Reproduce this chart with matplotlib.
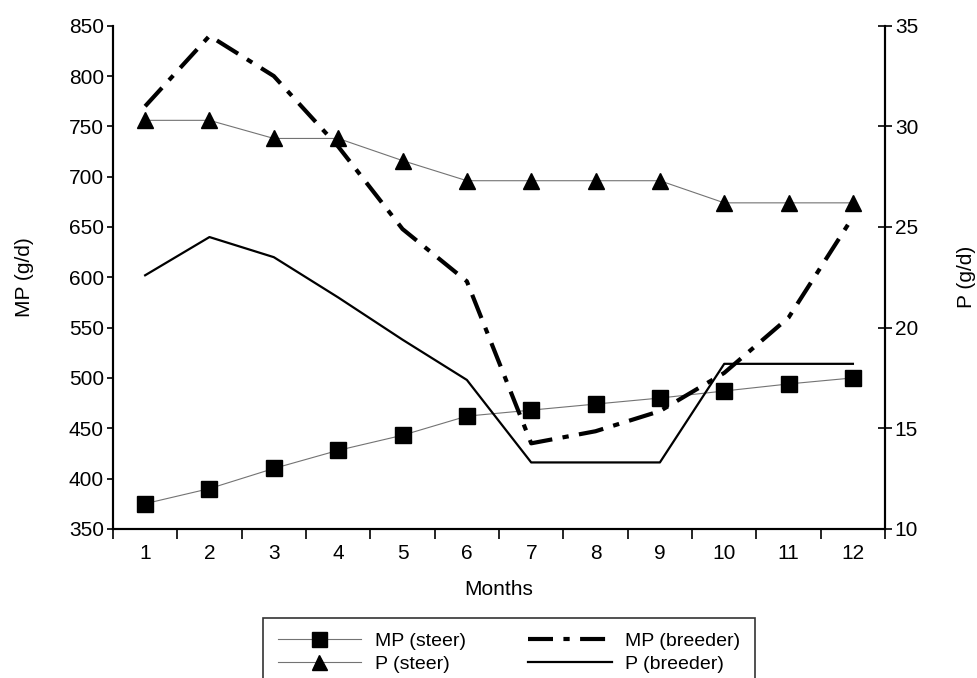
#!/usr/bin/env python3
"""MP and P requirements of steers and breeders by month."""

import matplotlib
matplotlib.use('Agg')
import matplotlib.pyplot as plt
from matplotlib.ticker import FixedLocator

plt.rcParams['font.family'] = ['Liberation Sans', 'DejaVu Sans']

# Data
months = [1, 2, 3, 4, 5, 6, 7, 8, 9, 10, 11, 12]
mp_steer = [375, 390, 410, 428, 443, 462, 468, 474, 480, 487, 494, 500]
mp_breeder = [770, 840, 800, 730, 648, 596, 435, 447, 467, 505, 560, 660]
p_steer = [30.3, 30.3, 29.4, 29.4, 28.3, 27.3, 27.3, 27.3, 27.3, 26.2, 26.2, 26.2]
p_breeder = [22.6, 24.5, 23.5, 21.5, 19.4, 17.4, 13.3, 13.3, 13.3, 18.2, 18.2, 18.2]

fig, ax = plt.subplots(figsize=(9.78, 6.78), dpi=100)
fig.subplots_adjust(left=0.1155, right=0.905, top=0.962, bottom=0.220)
ax2 = ax.twinx()

# Left axis series (MP)
h1, = ax.plot(months, mp_steer, color='0.45', lw=0.8, marker='s', ms=12,
              mfc='black', mec='black', label='MP (steer)')
h3, = ax.plot(months, mp_breeder, color='black', lw=3.0,
              dashes=(6, 2.5, 1.5, 2.5), label='MP (breeder)')

# Right axis series (P)
h2, = ax2.plot(months, p_steer, color='0.45', lw=0.8, marker='^', ms=12,
               mfc='black', mec='black', label='P (steer)')
h4, = ax2.plot(months, p_breeder, color='black', lw=1.6, label='P (breeder)')

ax.set_xlim(0.5, 12.5)
ax.set_ylim(350, 850)
ax2.set_ylim(10, 35)
ax.set_yticks(range(350, 851, 50))
ax2.set_yticks(range(10, 36, 5))

# category-style x axis: labels at months, ticks between
ax.set_xticks(months)
ax.xaxis.set_minor_locator(FixedLocator([m + 0.5 for m in range(0, 13)]))
ax.tick_params(axis='x', which='major', length=0, pad=11, labelsize=15)
ax.tick_params(axis='x', which='minor', length=7, width=1.2, direction='out')
ax.tick_params(axis='y', length=4.5, width=1.2, direction='out', labelsize=15,
               pad=2)
ax2.tick_params(axis='y', length=10, width=1.2, direction='inout',
                labelsize=15, pad=2)

for a in (ax, ax2):
    a.spines['top'].set_visible(False)
    for s in ('left', 'right', 'bottom'):
        a.spines[s].set_linewidth(1.5)

ax.set_xlabel('Months', fontsize=15, labelpad=12)
ax.set_ylabel('MP (g/d)', fontsize=15, labelpad=25)
ax2.set_ylabel('P (g/d)', fontsize=15, labelpad=28)

leg = fig.legend([h1, h2, h3, h4],
                 ['MP (steer)', 'P (steer)', 'MP (breeder)', 'P (breeder)'],
                 ncol=2, loc='upper center', bbox_to_anchor=(0.5205, 0.0885),
                 borderaxespad=0, fontsize=14, frameon=True, fancybox=False,
                 edgecolor='black', handlelength=4.3, handletextpad=0.7,
                 columnspacing=3.2, labelspacing=0.25, borderpad=0.75,
                 markerscale=0.9)
leg.get_frame().set_linewidth(1.2)

plt.savefig('out.png', dpi=100, facecolor='white')
plt.close()
